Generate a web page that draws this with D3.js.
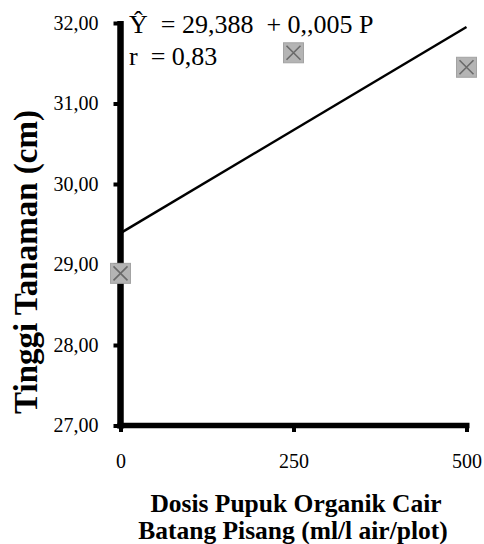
<!DOCTYPE html>
<html><head><meta charset="utf-8">
<script src="https://cdn.jsdelivr.net/npm/d3@7"></script>
<style>body{margin:0;background:#fff}svg text{font-family:"Times New Roman","Liberation Serif",Tinos,Times,serif;white-space:pre}</style>
</head><body><svg id="c" width="484" height="544"></svg>
<script>
const doses = [0, 250, 500];
const heights = [28.89, 31.63, 31.45];
const lineX = [0, 500];
const lineY = [29.39, 31.95];
const yTicks = [27, 28, 29, 30, 31, 32];
const xTicks = [0, 250, 500];
const equation = "Ŷ  = 29,388  + 0,,005 P";
const rText = "r  = 0,83";
const yTitle = "Tinggi Tanaman (cm)";
const xTitle1 = "Dosis Pupuk Organik Cair";
const xTitle2 = "Batang Pisang (ml/l air/plot)";

const FONT = '"Times New Roman","Liberation Serif",Tinos,Times,serif';
const svg = d3.select("#c");
const x = d3.scaleLinear().domain([0, 500]).range([120.5, 466.5]);
const y = d3.scaleLinear().domain([27, 32]).range([425.5, 23]);

// regression line
svg.append("line")
  .attr("x1", x(lineX[0])).attr("y1", y(lineY[0]))
  .attr("x2", x(lineX[1])).attr("y2", y(lineY[1]))
  .attr("stroke", "#000").attr("stroke-width", 2.5);

// axes
const yAxis = d3.axisLeft(y).tickValues(yTicks).tickSizeOuter(0).tickSize(7)
  .tickFormat(d => d3.format(".2f")(d).replace(".", ","));
const gy = svg.append("g").attr("transform", `translate(${x(0)},0)`).call(yAxis)
  .attr("font-family", FONT);
gy.select(".domain").attr("stroke", "#000").attr("stroke-width", 6.5)
  .attr("d", `M0,${y(32) - 2}V${y(27) + 3}`);
gy.selectAll(".tick line").attr("stroke", "#000").attr("stroke-width", 4);
gy.selectAll(".tick text").attr("font-size", 20).attr("x", -22).attr("fill", "#000")
  .attr("font-family", FONT);

const xAxis = d3.axisBottom(x).tickValues(xTicks).tickSizeOuter(0).tickSize(6.5)
  .tickFormat(d3.format("d"));
const gx = svg.append("g").attr("transform", `translate(0,${y(27)})`).call(xAxis)
  .attr("font-family", FONT);
gx.select(".domain").attr("stroke", "#000").attr("stroke-width", 5.5)
  .attr("d", `M${x(0) - 3},0H${x(500) + 3}`);
gx.selectAll(".tick line").attr("stroke", "#000").attr("stroke-width", 4);
gx.selectAll(".tick text").attr("font-size", 20).attr("fill", "#000")
  .attr("font-family", FONT).attr("dy", null).attr("y", 468 - y(27));

// markers
const m = svg.append("g").selectAll("g").data(doses.map((d, i) => [d, heights[i]])).join("g")
  .attr("transform", d => `translate(${x(d[0])},${y(d[1])})`);
m.append("rect").attr("x", -10).attr("y", -10).attr("width", 20).attr("height", 20)
  .attr("fill", "#b4b4b4").attr("stroke", "#a3a3a3").attr("stroke-width", 1);
m.append("path").attr("d", "M-7,-7L7,7M7,-7L-7,7").attr("stroke", "#6a6a6a").attr("stroke-width", 1.6);

// equation text
svg.append("text").attr("x", 129).attr("y", 33).attr("font-size", 26).attr("font-family", FONT).text(equation);
svg.append("text").attr("x", 129).attr("y", 65).attr("font-size", 26).attr("font-family", FONT).text(rText);

// titles
svg.append("text").attr("transform", "translate(37,262) rotate(-90)").attr("font-family", FONT)
  .attr("text-anchor", "middle").attr("font-size", 33).attr("font-weight", "bold").text(yTitle);
svg.append("text").attr("x", 296).attr("y", 512).attr("text-anchor", "middle").attr("font-family", FONT)
  .attr("font-size", 25.5).attr("font-weight", "bold").text(xTitle1);
svg.append("text").attr("x", 293).attr("y", 539).attr("text-anchor", "middle").attr("font-family", FONT)
  .attr("font-size", 25.5).attr("font-weight", "bold").text(xTitle2);
</script></body></html>
